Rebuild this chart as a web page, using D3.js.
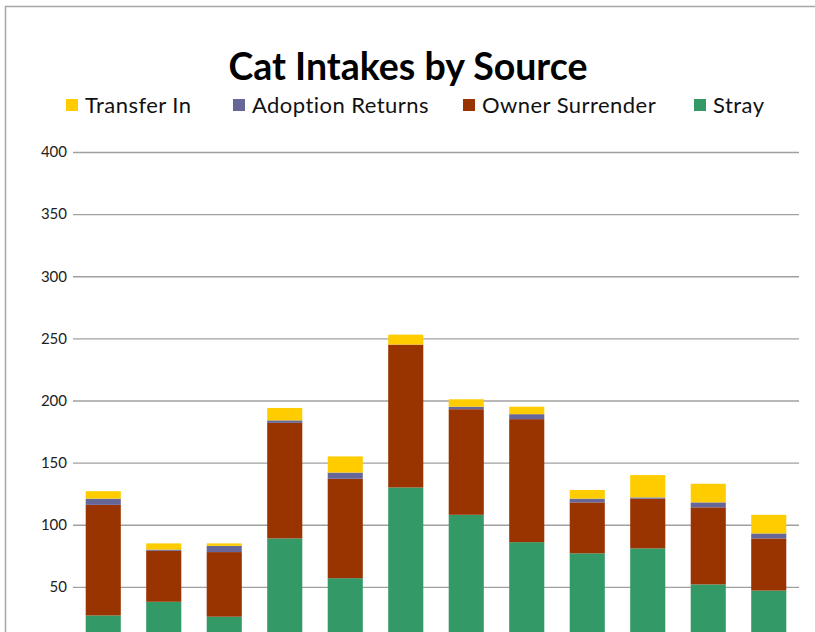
<!DOCTYPE html>
<html>
<head>
<meta charset="utf-8">
<script src="https://cdn.jsdelivr.net/npm/d3@7"></script>
<style>
  body { margin: 0; background: #fff; overflow: hidden; }
  svg { display: block; }
</style>
</head>
<body>
<div id="chart"></div>
<script>
const WIDTH = 815
const HEIGHT = 632

// months are the categories; their labels fall below the visible crop
const months = ['Jan', 'Feb', 'Mar', 'Apr', 'May', 'Jun', 'Jul', 'Aug', 'Sep', 'Oct', 'Nov', 'Dec']
const stray = [27, 38, 26, 89, 57, 130, 108, 86, 77, 81, 52, 47]
const ownerSurrender = [89, 41, 52, 93, 80, 115, 85, 99, 41, 40, 62, 42]
const adoptionReturns = [5, 1, 5, 2, 5, 0, 2, 4, 3, 1, 4, 4]
const transferIn = [6, 5, 2, 10, 13, 8, 6, 6, 7, 18, 15, 15]
const yTicks = [50, 100, 150, 200, 250, 300, 350, 400]

const seriesNames = ['Stray', 'Owner Surrender', 'Adoption Returns', 'Transfer In']
const COLORS = {
    'Stray': '#339966',
    'Owner Surrender': '#993300',
    'Adoption Returns': '#666699',
    'Transfer In': '#FFCC00'
}

const rows = months.map((m, i) => ({
    month: m,
    'Stray': stray[i],
    'Owner Surrender': ownerSurrender[i],
    'Adoption Returns': adoptionReturns[i],
    'Transfer In': transferIn[i]
}))

const margin = { left: 73, right: 16, top: 152 }
const zeroY = 649

const svg = d3.select('#chart').append('svg').attr('width', WIDTH).attr('height', HEIGHT)

// chart border (only top and left are in frame)
svg.append('path')
    .attr('d', `M5.5,${HEIGHT}V6.5H${WIDTH}`)
    .attr('fill', 'none')
    .attr('stroke', '#a6a6a6')
    .attr('stroke-width', 1.5)

const x = d3.scaleBand()
    .domain(months)
    .range([margin.left, WIDTH - margin.right])
    .paddingInner(0.42)
    .paddingOuter(0.21)

const y = d3.scaleLinear()
    .domain([0, 400])
    .range([zeroY, margin.top])

// gridlines + tick labels
const yAxis = d3.axisLeft(y)
    .tickValues(yTicks)
    .tickSize(-(WIDTH - margin.right - margin.left))
    .tickPadding(6)

const gy = svg.append('g')
    .attr('transform', `translate(${margin.left},0)`)
    .call(yAxis)
gy.select('.domain').remove()
gy.selectAll('line').attr('stroke', '#a0a0a0').attr('stroke-width', 1.4)
gy.selectAll('text')
    .attr('fill', '#222')
    .style('font-family', 'Lato, "Open Sans", sans-serif')
    .style('font-size', '15px')

// stacked bars
const stack = d3.stack().keys(seriesNames)
const layers = stack(rows)

svg.append('g').selectAll('g')
    .data(layers)
    .enter()
    .append('g')
    .attr('fill', d => COLORS[d.key])
    .selectAll('rect')
    .data(d => d)
    .enter()
    .append('rect')
    .attr('x', d => x(d.data.month))
    .attr('width', x.bandwidth())
    .attr('y', d => y(d[1]))
    .attr('height', d => y(d[0]) - y(d[1]))

// title
svg.append('text')
    .attr('x', 408)
    .attr('y', 80)
    .attr('text-anchor', 'middle')
    .style('font-family', 'Lato, "Open Sans", sans-serif')
    .style('font-weight', 'bold')
    .style('font-size', '37.5px')
    .attr('fill', '#000')
    .text('Cat Intakes by Source')

// legend, reversed order like the stack top-down
const legendItems = seriesNames.slice().reverse()
const legendX = [66, 233, 463, 694]
const legend = svg.append('g')
legendItems.forEach((name, i) => {
    const g = legend.append('g').attr('transform', `translate(${legendX[i]},99)`)
    g.append('rect')
        .attr('width', 12)
        .attr('height', 12)
        .attr('fill', COLORS[name])
    g.append('text')
        .attr('x', 19)
        .attr('y', 14)
        .style('font-family', 'Lato, "Open Sans", sans-serif')
        .style('font-size', '22px')
        .style('letter-spacing', '0.45px')
        .attr('fill', '#111')
        .text(name)
})
</script>
</body>
</html>
